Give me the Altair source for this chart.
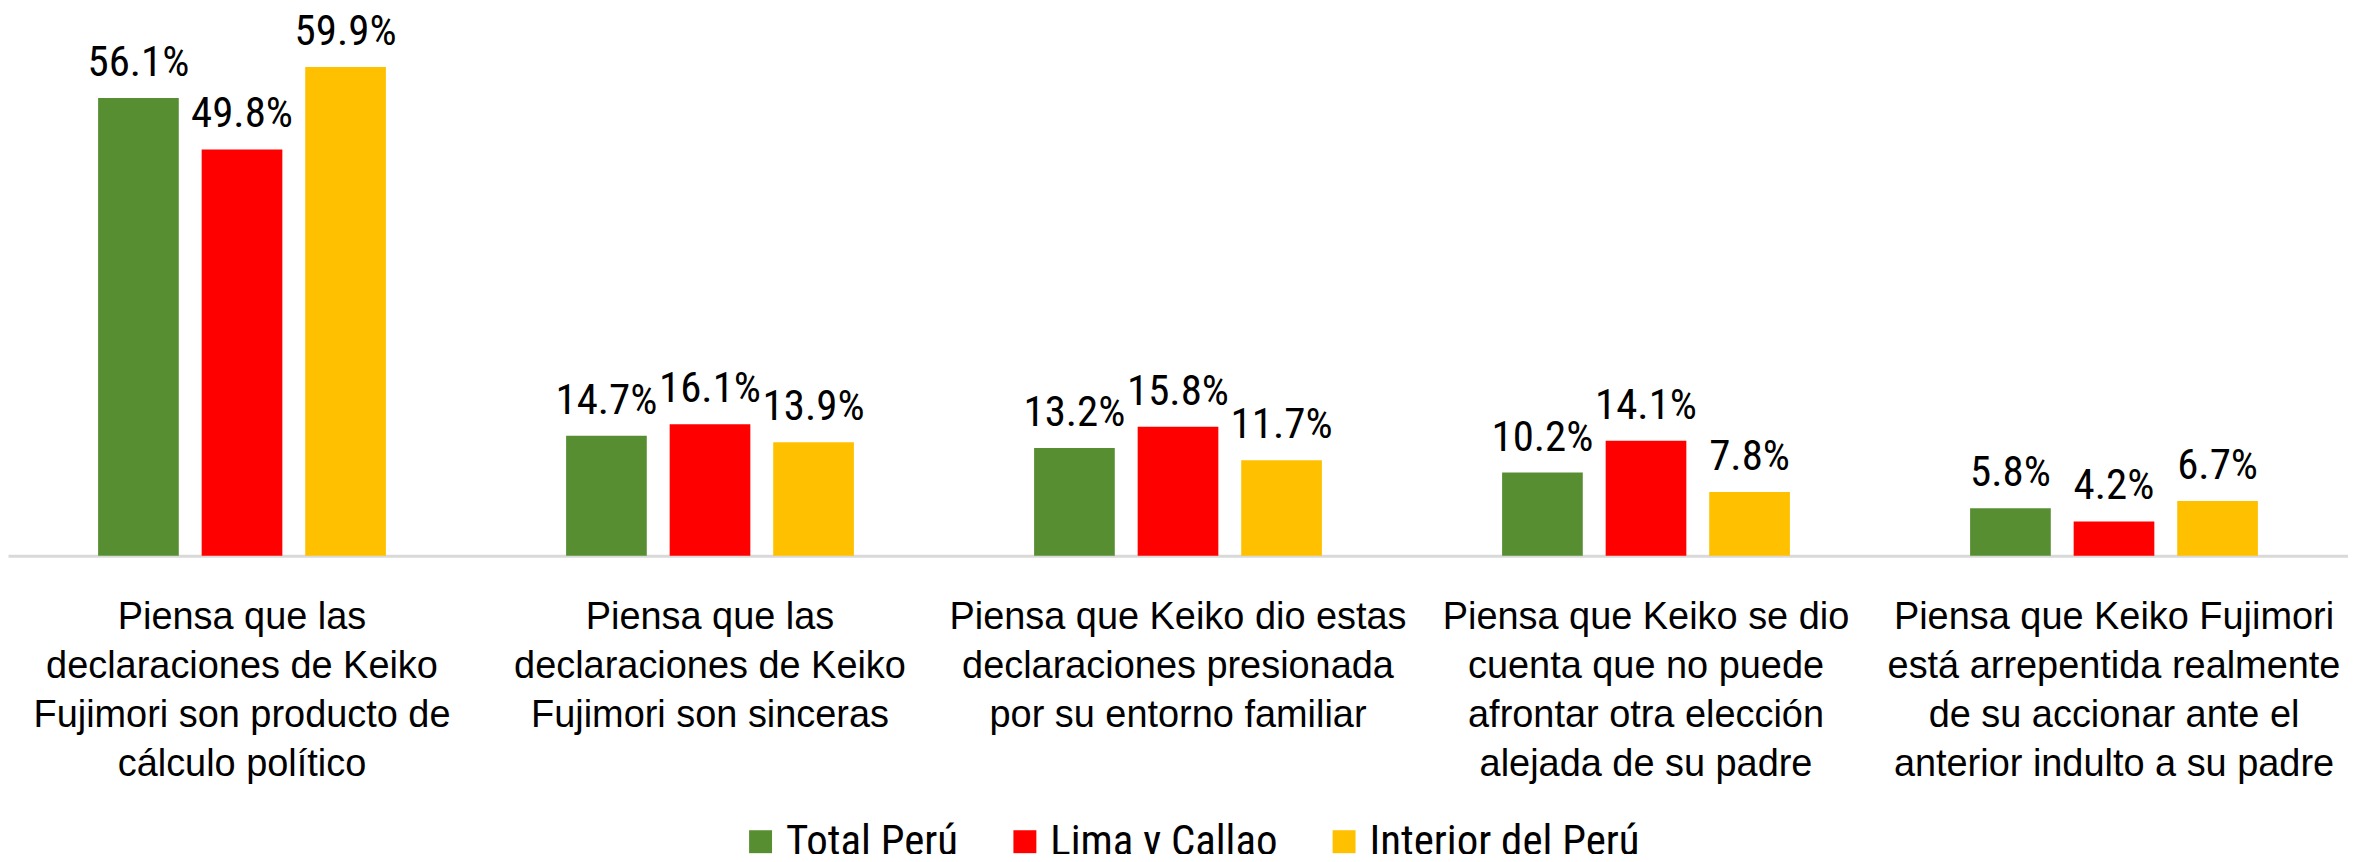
import altair as alt
import pandas as pd

categories = [
    "Piensa que las|declaraciones de Keiko|Fujimori son producto de|cálculo político",
    "Piensa que las|declaraciones de Keiko|Fujimori son sinceras",
    "Piensa que Keiko dio estas|declaraciones presionada|por su entorno familiar",
    "Piensa que Keiko se dio|cuenta que no puede|afrontar otra elección|alejada de su padre",
    "Piensa que Keiko Fujimori|está arrepentida realmente|de su accionar ante el|anterior indulto a su padre",
]
series = ["Total Perú", "Lima y Callao", "Interior del Perú"]
total_peru = [56.1, 14.7, 13.2, 10.2, 5.8]
lima_callao = [49.8, 16.1, 15.8, 14.1, 4.2]
interior = [59.9, 13.9, 11.7, 7.8, 6.7]
colors = ["#578e32", "#ff0000", "#ffc000"]

NARROW = "Liberation Sans Narrow, Arial Narrow, Roboto Condensed, Roboto"

rows = []
for i, c in enumerate(categories):
    for s, vals in zip(series, [total_peru, lima_callao, interior]):
        rows.append({"cat": c, "serie": s, "valor": vals[i], "etiqueta": f"{vals[i]:.1f}%"})
df = pd.DataFrame(rows)

x_enc = alt.X(
    "cat:N",
    sort=categories,
    scale=alt.Scale(paddingInner=0, paddingOuter=0),
    axis=alt.Axis(
        title=None,
        labelExpr="split(datum.label, '|')",
        labelAngle=0,
        labelAlign="center",
        labelBaseline="top",
        labelFont="Liberation Sans",
        labelFontSize=38,
        labelLineHeight=49,
        labelPadding=43,
        labelColor="#000000",
        labelLimit=0,
        ticks=False,
        domainColor="#d9d9d9",
        domainWidth=3,
        grid=False,
    ),
)
xo_enc = alt.XOffset("serie:N", sort=series, scale=alt.Scale(paddingInner=0.221, paddingOuter=0.87))
y_enc = alt.Y("valor:Q", scale=alt.Scale(domain=[0, 67]), axis=None)

bars = alt.Chart(df).mark_bar().encode(
    x=x_enc,
    xOffset=xo_enc,
    y=y_enc,
    color=alt.Color(
        "serie:N",
        sort=series,
        scale=alt.Scale(domain=series, range=colors),
        legend=alt.Legend(
            title=None,
            orient="none",
            direction="horizontal",
            legendX=733,
            legendY=813,
            symbolType="square",
            symbolSize=529,
            symbolStrokeWidth=0,
            labelFont=NARROW,
            labelFontSize=43,
            labelColor="#000000",
            labelOffset=4,
            columnPadding=45,
            padding=0,
            labelLimit=0,
        ),
    ),
)

texts = alt.Chart(df).mark_text(
    font=NARROW,
    fontSize=43,
    baseline="alphabetic",
    align="center",
    dy=-22,
    color="#000000",
).encode(
    x=x_enc,
    xOffset=xo_enc,
    y=y_enc,
    text="etiqueta:N",
)

chart = (
    alt.layer(bars, texts)
    .properties(
        width=2346,
        height=548,
        autosize=alt.AutoSizeParams(type="none"),
        padding={"left": 0, "top": 0, "right": 0, "bottom": 298},
    )
    .configure_view(stroke=None)
)

chart.save("out.html", embed_options={"renderer": "svg", "actions": False})
